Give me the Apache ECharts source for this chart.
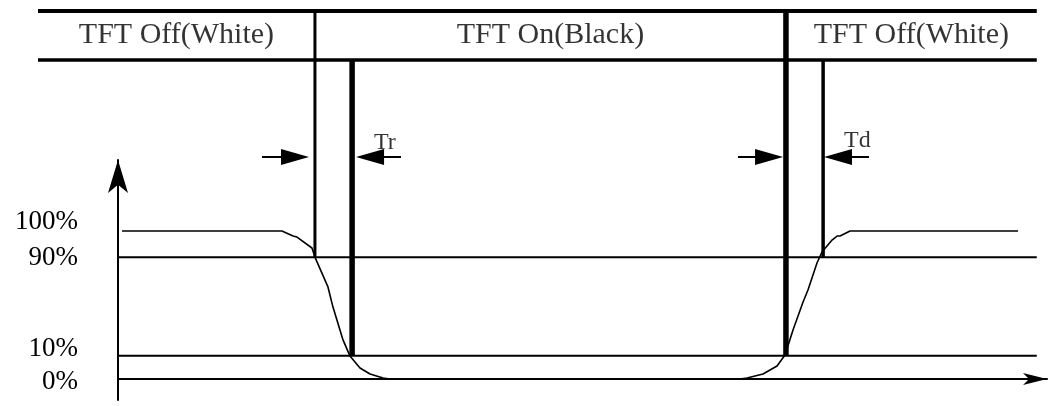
<!DOCTYPE html>
<html>
<head>
<meta charset="utf-8">
<script src="https://cdn.jsdelivr.net/npm/echarts@6/dist/echarts.min.js"></script>
<style>
html,body{margin:0;padding:0;background:#fff;}
#chart{width:1049px;height:406px;}
</style>
</head>
<body>
<div id="chart"></div>
<script>
// ---- Optical response curve (time units, level units where 0% = 0, 100% = 100) ----
const curveTime  = [0.43, 17.65, 18.84, 19.27, 20.88, 21.21, 22.60, 23.14, 24.22, 24.97, 26.05, 27.13, 28.53, 29.28,
                    66.95, 67.71, 69.43, 70.94, 71.80, 72.66, 73.74, 74.27, 75.24, 75.78, 76.86, 77.40, 77.72, 78.80, 96.88];
const curveLevel = [100, 100, 96.6, 95.9, 88.5, 82.2, 62.2, 48.6, 26.4, 15.5, 7.4, 3.4, 0.7, 0,
                    0, 0.7, 3.4, 8.8, 16.2, 33.1, 52.0, 60.1, 78.4, 85.8, 93.9, 96.6, 96.6, 100, 100];

// ---- Level ticks ----
const levelNames  = ['0%', '10%', '90%', '100%'];
const levelValues = [0, 15.7, 82.2, 100];
const thresholdLevels = [0, 15.7, 82.2];
const thresholdSpan = [0, 98.9];

// ---- Phase header (own panel: rows 0 = bottom rule, 1 = top rule) ----
const phaseNames  = ['TFT Off(White)', 'TFT On(Black)', 'TFT Off(White)'];
const phaseBounds = [-8.61, 21.2, 71.9, 98.9];
const headerRows = [1, 0];

// ---- Response time markers (main panel level units) ----
const markerTimes = [21.2, 25.2, 71.9, 75.9];
const markerTop   = [248.6, 215.5, 248.6, 215.5];
const markerBottom = [82.2, 15.7, 15.7, 82.2];

// ---- Dimension arrows ----
const arrowLevel = 150;
const arrowShaftFrom = [15.5, 30.46, 66.74, 80.84];
const arrowHeadAt    = [19.05, 27.13, 70.08, 77.50];
const arrowDir       = ['right', 'left', 'right', 'left'];
const arrowNames = ['Tr', 'Td'];
const arrowNameTime = [27.56, 78.15];
const arrowNameLevel = [159.5, 160.8];

const FONT = 'Liberation Serif, Times New Roman, serif';
const series = [];

function seg(data, width, z, axisIdx) {
  series.push({
    type: 'line', data: data, symbol: 'none', clip: false, silent: true, z: z || 2,
    xAxisIndex: axisIdx || 0, yAxisIndex: axisIdx || 0,
    lineStyle: { color: '#000', width: width }
  });
}

// threshold lines
thresholdLevels.forEach(l => seg([[thresholdSpan[0], l], [thresholdSpan[1], l]], 2, 2));
// header rules
seg([[phaseBounds[0], headerRows[0]], [phaseBounds[3], headerRows[0]]], 4, 3, 1);
seg([[phaseBounds[0], headerRows[1]], [phaseBounds[3], headerRows[1]]], 3.5, 3, 1);
// markers
const markerWidths = [3, 5.5, 5.5, 3.5];
markerTimes.forEach((t, i) => seg([[t, markerTop[i]], [t, markerBottom[i]]], markerWidths[i], 4));
// arrow shafts
arrowShaftFrom.forEach((f, i) => seg([[f, arrowLevel], [arrowHeadAt[i], arrowLevel]], 2, 3));

// arrow heads
series.push({
  type: 'scatter', clip: false, silent: true, z: 5,
  symbol: 'triangle', symbolSize: [16, 28],
  itemStyle: { color: '#000', opacity: 1 },
  data: arrowHeadAt.map((t, i) => ({ value: [t, arrowLevel], symbolRotate: arrowDir[i] === 'right' ? -90 : 90 }))
});

// response curve
series.push({
  type: 'line', clip: false, silent: true, z: 6, symbol: 'none',
  lineStyle: { color: '#000', width: 1.6 },
  data: curveTime.map((t, i) => [t, curveLevel[i]])
});

// phase labels
series.push({
  type: 'scatter', clip: false, silent: true, symbolSize: 0, z: 7,
  xAxisIndex: 1, yAxisIndex: 1,
  data: phaseNames.map((n, i) => ({ value: [(phaseBounds[i] + phaseBounds[i + 1]) / 2, (headerRows[0] + headerRows[1]) / 2], name: n })),
  label: { show: true, position: 'inside', formatter: p => p.name,
           color: '#000', fontFamily: FONT, fontSize: 30 }
});

// Tr / Td labels
series.push({
  type: 'scatter', clip: false, silent: true, symbolSize: 0, z: 7,
  data: arrowNames.map((n, i) => ({ value: [arrowNameTime[i], arrowNameLevel[i]], name: n })),
  label: { show: true, position: 'right', distance: 0, formatter: p => p.name,
           color: '#000', fontFamily: FONT, fontSize: 24 }
});

const chart = echarts.init(document.getElementById('chart'), null, { renderer: 'canvas' });
const LBL = 27;
chart.setOption({
  animation: false,
  backgroundColor: '#fff',
  grid: [
    { left: 118, right: 2, top: 160, bottom: 6, containLabel: false },
    { left: 38, right: 2, top: 11, height: 49, containLabel: false }
  ],
  xAxis: [{
    type: 'value', min: 0, max: 100, gridIndex: 0,
    axisLine: { show: true, symbol: ['none', 'arrow'], symbolSize: [9, 24], lineStyle: { color: '#000', width: 2 } },
    axisTick: { show: false }, axisLabel: { show: false }, splitLine: { show: false }
  }, {
    type: 'value', min: -8.61, max: 100, gridIndex: 1, show: false
  }],
  yAxis: [{
    type: 'value', min: -14.19, max: 147.97, gridIndex: 0,
    axisLine: { show: true, symbol: ['none', 'arrow'], symbolSize: [15, 33], lineStyle: { color: '#000', width: 2 } },
    axisTick: { show: false }, splitLine: { show: false },
    axisLabel: {
      show: true, customValues: levelValues, margin: 40,
      color: '#000', fontFamily: FONT, fontSize: LBL,
      formatter: function (v) {
        let idx = 0, best = 1e9;
        levelValues.forEach((lv, i) => { const d = Math.abs(lv - v); if (d < best) { best = d; idx = i; } });
        return '{l' + idx + '|' + levelNames[idx] + '}';
      },
      rich: {
        l0: { fontFamily: FONT, fontSize: LBL, color: '#000', padding: [6, 0, 0, 0] },
        l1: { fontFamily: FONT, fontSize: LBL, color: '#000', padding: [0, 0, 14, 0] },
        l2: { fontFamily: FONT, fontSize: LBL, color: '#000', padding: [2, 0, 0, 0] },
        l3: { fontFamily: FONT, fontSize: LBL, color: '#000', padding: [0, 0, 18, 0] }
      }
    }
  }, {
    type: 'value', min: 0, max: 1, gridIndex: 1, show: false
  }],
  series: series
});
</script>
</body>
</html>
